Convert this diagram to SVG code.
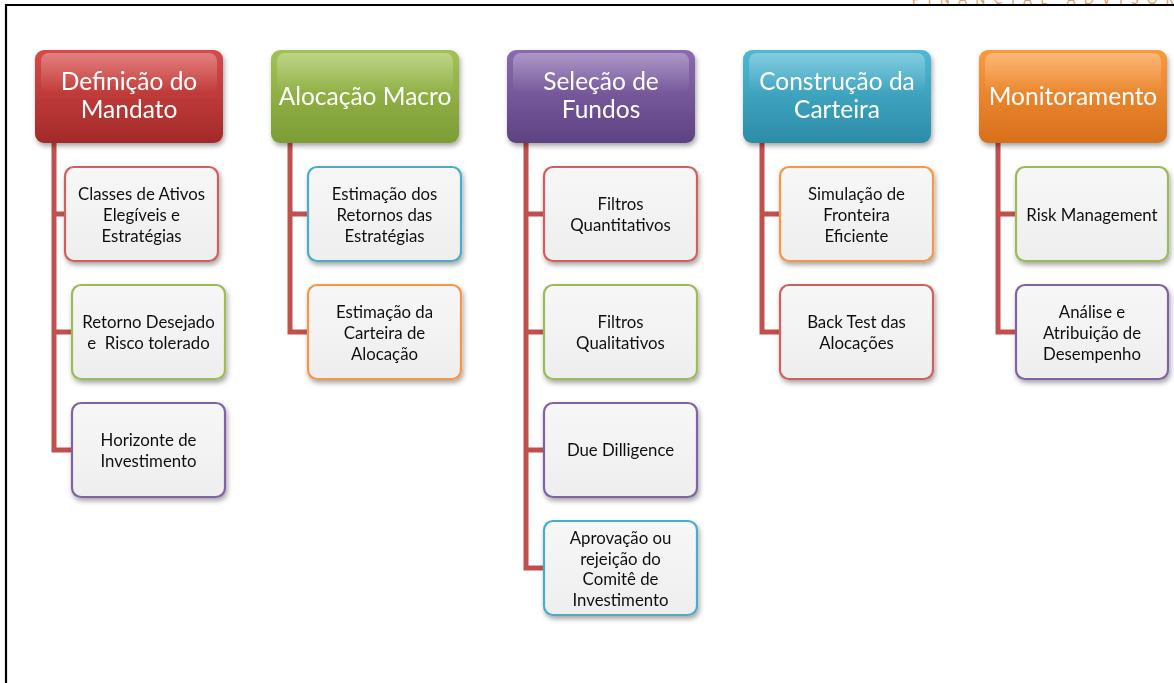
<svg xmlns="http://www.w3.org/2000/svg" width="1174" height="683" viewBox="0 0 1174 683">
<defs>
<style>
.hd{font-family:Lato,"Open Sans","Liberation Sans",sans-serif;font-size:24.5px;fill:#fff;text-anchor:middle}
.ct{font-family:Lato,"Open Sans","Liberation Sans",sans-serif;font-size:16.8px;fill:#111;text-anchor:middle;white-space:pre}
.cb{stroke-width:2.2}
.ln{stroke:#c0504d;stroke-width:5;fill:none;stroke-linejoin:miter}
.gl{fill:url(#gloss)}
</style>
<filter id="sh" x="-10%" y="-10%" width="125%" height="130%">
<feDropShadow dx="1.5" dy="3" stdDeviation="2.5" flood-color="#000" flood-opacity="0.35"/>
</filter>
<linearGradient id="gloss" x1="0" y1="0" x2="0" y2="1">
<stop offset="0" stop-color="#fff" stop-opacity="0.3"/>
<stop offset="1" stop-color="#fff" stop-opacity="0"/>
</linearGradient>
<linearGradient id="gRed" x1="0" y1="0" x2="0" y2="1"><stop offset="0" stop-color="#d84a48"/><stop offset="1" stop-color="#a32a29"/></linearGradient>
<linearGradient id="gGrn" x1="0" y1="0" x2="0" y2="1"><stop offset="0" stop-color="#a2c255"/><stop offset="1" stop-color="#7c9c35"/></linearGradient>
<linearGradient id="gPur" x1="0" y1="0" x2="0" y2="1"><stop offset="0" stop-color="#8a6bb0"/><stop offset="1" stop-color="#5e4282"/></linearGradient>
<linearGradient id="gCyn" x1="0" y1="0" x2="0" y2="1"><stop offset="0" stop-color="#4fb8d3"/><stop offset="1" stop-color="#2c8ca8"/></linearGradient>
<linearGradient id="gOrg" x1="0" y1="0" x2="0" y2="1"><stop offset="0" stop-color="#fa9a3e"/><stop offset="1" stop-color="#d8701c"/></linearGradient>
<linearGradient id="gBox" x1="0" y1="0" x2="0" y2="1"><stop offset="0" stop-color="#f7f7f7"/><stop offset="1" stop-color="#eeeeee"/></linearGradient>
</defs>
<rect width="1174" height="683" fill="#fff"/>
<text x="912" y="3.5" font-family="Lato,'Liberation Sans',sans-serif" font-size="13" fill="#d9a06c" textLength="262" lengthAdjust="spacing">FINANCIAL ADVISOR</text>
<path d="M6 683 V5 H1174" fill="none" stroke="#000" stroke-width="2.2"/>

<g id="connectors">
<path class="ln" d="M54 143 V450 H72 M54 214 H65 M54 332 H72"/>
<path class="ln" d="M290 143 V332 H308 M290 214 H308"/>
<path class="ln" d="M526 143 V568 H544 M526 214 H544 M526 332 H544 M526 450 H544"/>
<path class="ln" d="M762 143 V332 H780 M762 214 H780"/>
<path class="ln" d="M998 143 V332 H1016 M998 214 H1016"/>
</g>

<g id="h1" filter="url(#sh)"><rect x="35" y="50" width="188" height="93" rx="9" fill="url(#gRed)"/><rect x="41" y="53" width="176" height="40" rx="8" class="gl"/><text class="hd" x="129" y="90">Definição do</text><text class="hd" x="129" y="118">Mandato</text></g>
<g id="h2" filter="url(#sh)"><rect x="271" y="50" width="188" height="93" rx="9" fill="url(#gGrn)"/><rect x="277" y="53" width="176" height="40" rx="8" class="gl"/><text class="hd" x="365" y="105">Alocação Macro</text></g>
<g id="h3" filter="url(#sh)"><rect x="507" y="50" width="188" height="93" rx="9" fill="url(#gPur)"/><rect x="513" y="53" width="176" height="40" rx="8" class="gl"/><text class="hd" x="601" y="90">Seleção de</text><text class="hd" x="601" y="118">Fundos</text></g>
<g id="h4" filter="url(#sh)"><rect x="743" y="50" width="188" height="93" rx="9" fill="url(#gCyn)"/><rect x="749" y="53" width="176" height="40" rx="8" class="gl"/><text class="hd" x="837" y="90">Construção da</text><text class="hd" x="837" y="118">Carteira</text></g>
<g id="h5" filter="url(#sh)"><rect x="979" y="50" width="188" height="93" rx="9" fill="url(#gOrg)"/><rect x="985" y="53" width="176" height="40" rx="8" class="gl"/><text class="hd" x="1073" y="105">Monitoramento</text></g>

<g id="c1a" filter="url(#sh)"><rect x="65" y="167" width="153" height="94" rx="9" fill="url(#gBox)" stroke="#d0605d" class="cb"/><text class="ct" x="141.5" y="200">Classes de Ativos</text><text class="ct" x="141.5" y="221">Elegíveis e</text><text class="ct" x="141.5" y="242">Estratégias</text></g>
<g id="c1b" filter="url(#sh)"><rect x="72" y="285" width="153" height="94" rx="9" fill="url(#gBox)" stroke="#9bbb59" class="cb"/><text class="ct" x="148.5" y="328">Retorno Desejado</text><text class="ct" x="148.5" y="349">e  Risco tolerado</text></g>
<g id="c1c" filter="url(#sh)"><rect x="72" y="403" width="153" height="94" rx="9" fill="url(#gBox)" stroke="#8064a2" class="cb"/><text class="ct" x="148.5" y="446">Horizonte de</text><text class="ct" x="148.5" y="467">Investimento</text></g>

<g id="c2a" filter="url(#sh)"><rect x="308" y="167" width="153" height="94" rx="9" fill="url(#gBox)" stroke="#4bacc6" class="cb"/><text class="ct" x="384.5" y="200">Estimação dos</text><text class="ct" x="384.5" y="221">Retornos das</text><text class="ct" x="384.5" y="242">Estratégias</text></g>
<g id="c2b" filter="url(#sh)"><rect x="308" y="285" width="153" height="94" rx="9" fill="url(#gBox)" stroke="#f79646" class="cb"/><text class="ct" x="384.5" y="318">Estimação da</text><text class="ct" x="384.5" y="339">Carteira de</text><text class="ct" x="384.5" y="360">Alocação</text></g>

<g id="c3a" filter="url(#sh)"><rect x="544" y="167" width="153" height="94" rx="9" fill="url(#gBox)" stroke="#d0605d" class="cb"/><text class="ct" x="620.5" y="210">Filtros</text><text class="ct" x="620.5" y="231">Quantitativos</text></g>
<g id="c3b" filter="url(#sh)"><rect x="544" y="285" width="153" height="94" rx="9" fill="url(#gBox)" stroke="#9bbb59" class="cb"/><text class="ct" x="620.5" y="328">Filtros</text><text class="ct" x="620.5" y="349">Qualitativos</text></g>
<g id="c3c" filter="url(#sh)"><rect x="544" y="403" width="153" height="94" rx="9" fill="url(#gBox)" stroke="#8064a2" class="cb"/><text class="ct" x="620.5" y="456">Due Dilligence</text></g>
<g id="c3d" filter="url(#sh)"><rect x="544" y="521" width="153" height="94" rx="9" fill="url(#gBox)" stroke="#4bacc6" class="cb"/><text class="ct" x="620.5" y="544">Aprovação ou</text><text class="ct" x="620.5" y="564.5">rejeição do</text><text class="ct" x="620.5" y="585">Comitê de</text><text class="ct" x="620.5" y="605.5">Investimento</text></g>

<g id="c4a" filter="url(#sh)"><rect x="780" y="167" width="153" height="94" rx="9" fill="url(#gBox)" stroke="#f79646" class="cb"/><text class="ct" x="856.5" y="200">Simulação de</text><text class="ct" x="856.5" y="221">Fronteira</text><text class="ct" x="856.5" y="242">Eficiente</text></g>
<g id="c4b" filter="url(#sh)"><rect x="780" y="285" width="153" height="94" rx="9" fill="url(#gBox)" stroke="#d0605d" class="cb"/><text class="ct" x="856.5" y="328">Back Test das</text><text class="ct" x="856.5" y="349">Alocações</text></g>

<g id="c5a" filter="url(#sh)"><rect x="1016" y="167" width="152" height="94" rx="9" fill="url(#gBox)" stroke="#9bbb59" class="cb"/><text class="ct" x="1092" y="221">Risk Management</text></g>
<g id="c5b" filter="url(#sh)"><rect x="1016" y="285" width="152" height="94" rx="9" fill="url(#gBox)" stroke="#8064a2" class="cb"/><text class="ct" x="1092" y="318">Análise e</text><text class="ct" x="1092" y="339">Atribuição de</text><text class="ct" x="1092" y="360">Desempenho</text></g>
</svg>
